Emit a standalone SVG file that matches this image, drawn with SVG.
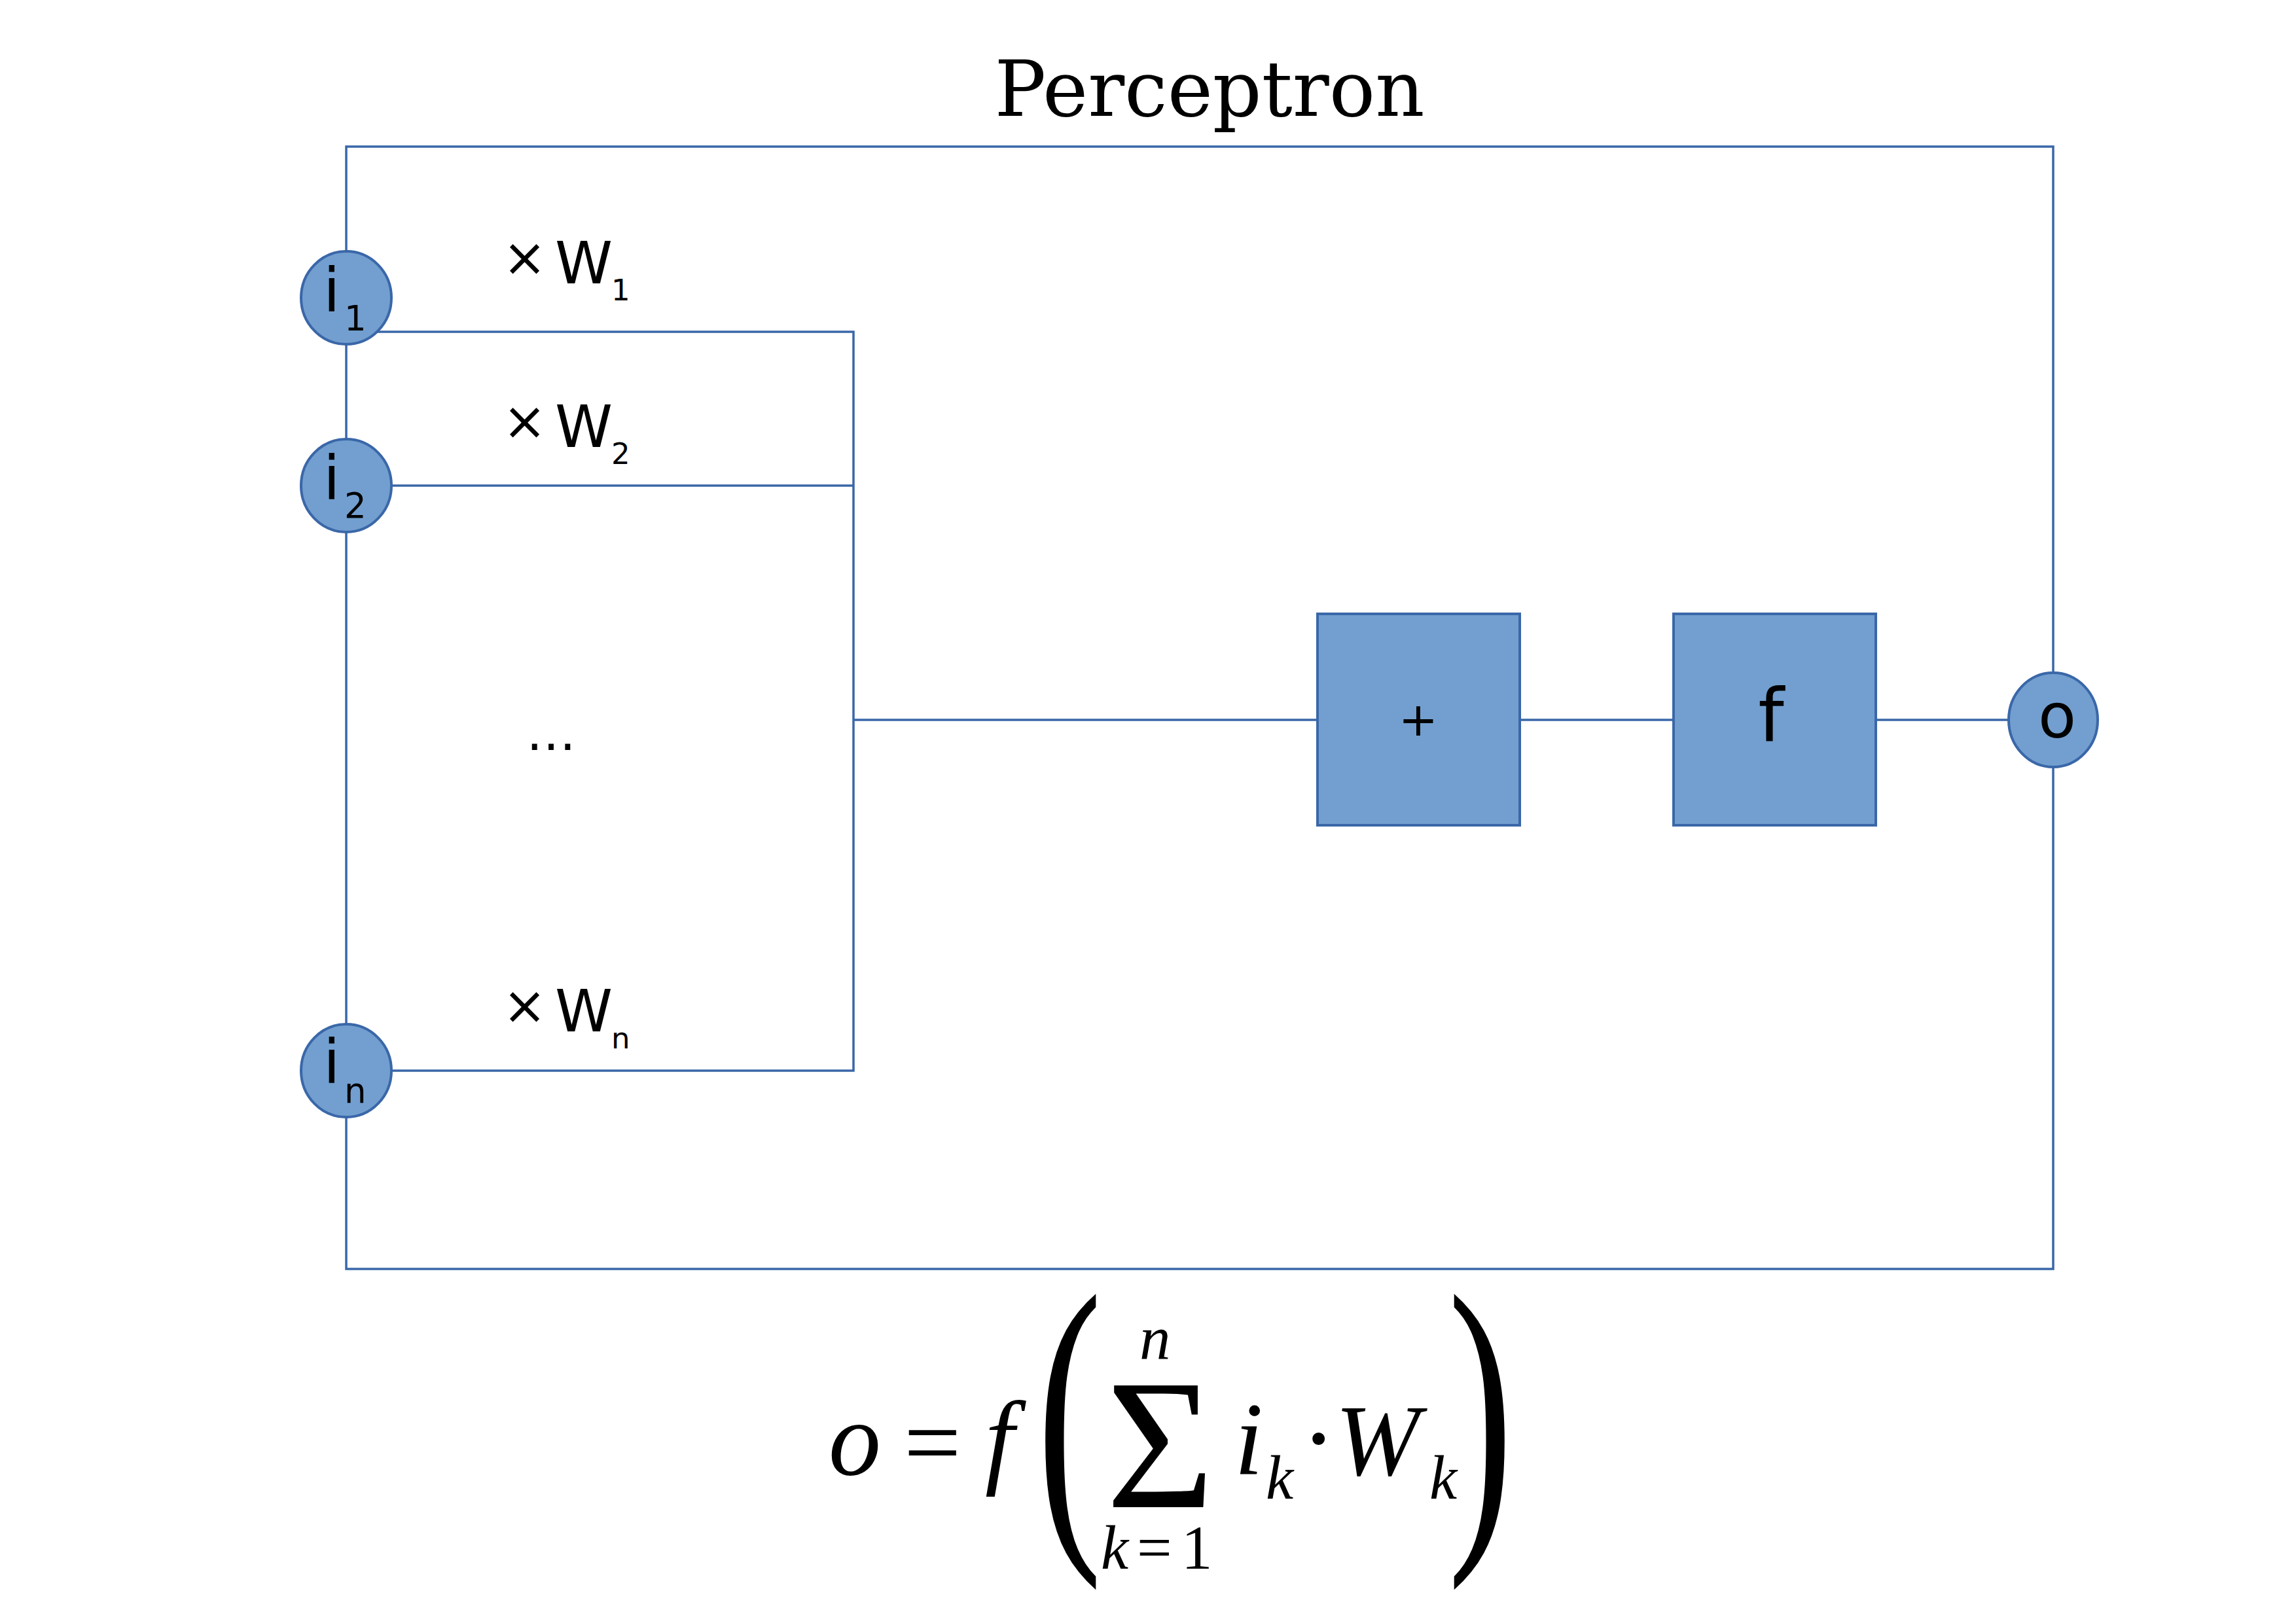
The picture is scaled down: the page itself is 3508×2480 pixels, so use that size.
<svg xmlns="http://www.w3.org/2000/svg" width="3508" height="2480" viewBox="0 0 3508 2480">
<style>
.ln{stroke:#3A67A8;stroke-width:3.5;fill:none}
.nd{fill:#729FCF;stroke:#3A67A8;stroke-width:4}
.t{font-family:"DejaVu Sans",sans-serif;fill:#000}
.m{font-family:"Liberation Serif",serif;font-style:italic;fill:#000}
.mr{font-family:"Liberation Serif",serif;fill:#000}
</style>
<rect width="3508" height="2480" fill="#fff"/>
<text x="1848" y="177" font-family="DejaVu Serif, serif" font-size="117" text-anchor="middle">Perceptron</text>
<g id="connectors">
<rect class="ln" x="529" y="224" width="2608" height="1715"/>
<polyline class="ln" points="529,507 1304,507 1304,1636 529,1636"/>
<line class="ln" x1="529" y1="742" x2="1304" y2="742"/>
<line class="ln" x1="1304" y1="1100" x2="2013" y2="1100"/>
<line class="ln" x1="2322" y1="1100" x2="2557" y2="1100"/>
<line class="ln" x1="2866" y1="1100" x2="3137" y2="1100"/>
</g>
<g id="i1">
<ellipse class="nd" cx="529" cy="455" rx="69" ry="71"/>
<text class="t" font-size="92" x="494" y="476">i</text>
<text class="t" font-size="53" x="526" y="505">1</text>
</g>
<g id="i2">
<ellipse class="nd" cx="529" cy="742" rx="69" ry="71"/>
<text class="t" font-size="92" x="494" y="763">i</text>
<text class="t" font-size="53" x="526" y="791">2</text>
</g>
<g id="in">
<ellipse class="nd" cx="529" cy="1636" rx="69" ry="71"/>
<text class="t" font-size="92" x="494" y="1655">i</text>
<text class="t" font-size="53" x="526" y="1685">n</text>
</g>
<g id="w1">
<text class="t" font-size="80" x="768" y="421">×</text>
<text class="t" font-size="89" x="848" y="433">W</text>
<text class="t" font-size="45" x="934" y="459">1</text>
</g>
<g id="w2">
<text class="t" font-size="80" x="768" y="671">×</text>
<text class="t" font-size="89" x="848" y="683">W</text>
<text class="t" font-size="45" x="934" y="709">2</text>
</g>
<g id="wn">
<text class="t" font-size="80" x="768" y="1564">×</text>
<text class="t" font-size="89" x="848" y="1576">W</text>
<text class="t" font-size="45" x="934" y="1602">n</text>
</g>
<g id="dots">
<text class="t" font-size="76" x="804" y="1146">…</text>
</g>
<g id="sum">
<rect class="nd" x="2013" y="938" width="309" height="323"/>
<text class="t" font-size="72" x="2167" y="1124" text-anchor="middle">+</text>
</g>
<g id="f">
<rect class="nd" x="2557" y="938" width="309" height="323"/>
<text class="t" font-size="112" x="2706" y="1132" text-anchor="middle">f</text>
</g>
<g id="o">
<ellipse class="nd" cx="3137" cy="1100" rx="68" ry="72"/>
<text class="t" font-size="95" x="3143" y="1127" text-anchor="middle">o</text>
</g>
<g id="formula">
<text class="m" font-size="160" x="1266" y="2253">o</text>
<text class="mr" font-size="155" x="1381" y="2256">=</text>
<text class="m" font-size="160" x="1505" y="2253">f</text>
<text class="mr" font-size="300" text-anchor="middle" transform="translate(1634,2323) scale(1,1.662)">(</text>
<text class="m" font-size="95" x="1741" y="2077">n</text>
<text class="mr" font-size="284" x="1690" y="2303">Σ</text>
<text class="m" font-size="95" x="1682" y="2397">k</text>
<text class="mr" font-size="95" x="1737" y="2397">=</text>
<text class="mr" font-size="95" x="1805" y="2397">1</text>
<text class="m" font-size="158" x="1886" y="2253">i</text>
<text class="m" font-size="95" x="1934" y="2290">k</text>
<text class="mr" font-size="160" x="1988" y="2252">·</text>
<text class="m" font-size="155" x="2040" y="2254">W</text>
<text class="m" font-size="95" x="2184" y="2290">k</text>
<text class="mr" font-size="300" text-anchor="middle" transform="translate(2262,2323) scale(1,1.662)">)</text>
</g>
</svg>
